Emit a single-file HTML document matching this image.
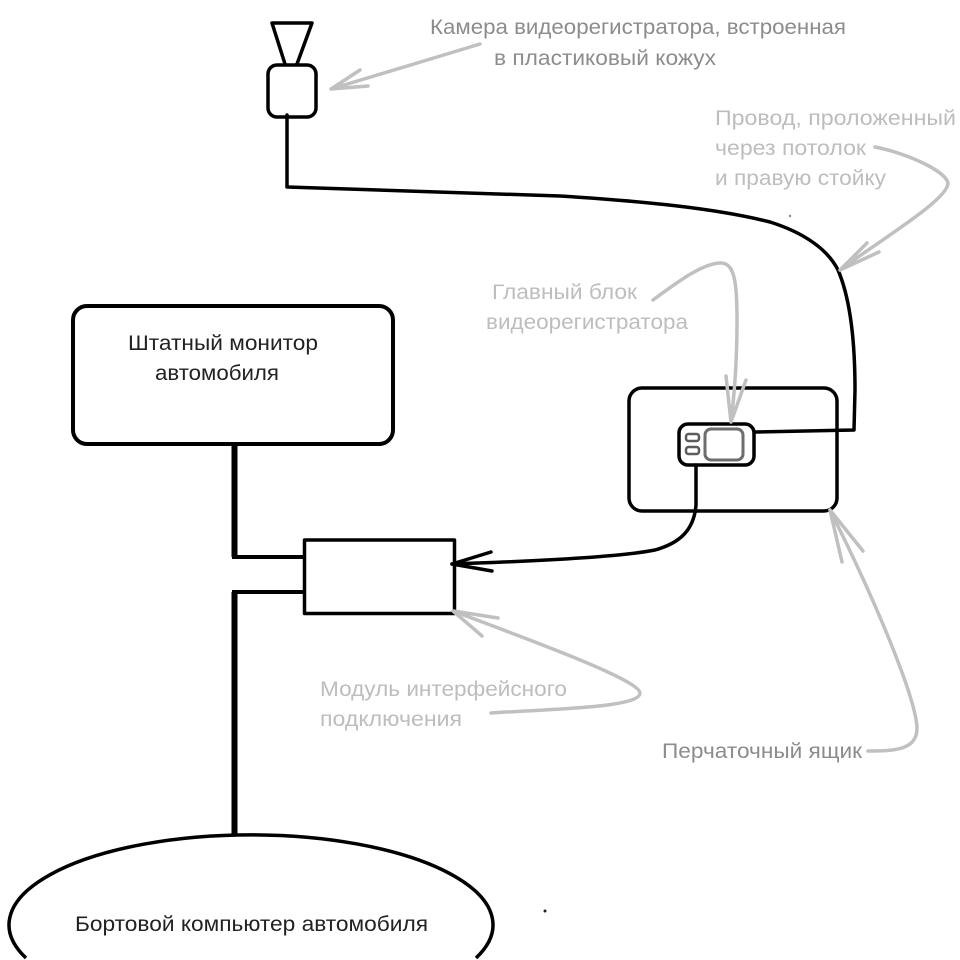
<!DOCTYPE html>
<html><head><meta charset="utf-8"><style>
html,body{margin:0;padding:0;background:#fff;width:960px;height:960px;overflow:hidden}
svg{display:block}
text{font-family:"Liberation Sans","DejaVu Sans",sans-serif;font-size:21.5px}
.g{fill:#bdbdbd}
.d{fill:#8c8c8c}
.b{fill:#222}
</style></head><body>
<svg width="960" height="960" viewBox="0 0 960 960" xmlns="http://www.w3.org/2000/svg">
<g fill="none" stroke="#000" stroke-linecap="round" stroke-linejoin="round">
<path d="M285 64L272 23H312L297 64" stroke-width="3.5"/>
<rect x="268" y="65" width="48" height="52" rx="9" stroke-width="3.5"/>
<path d="M287 115V187L560 196C640 201 715 208 770 222C805 233 828 250 838 270C850 298 855 340 855 390L854 430L755 432" stroke-width="3.5"/>
<rect x="73" y="306" width="320" height="138" rx="14" stroke-width="4"/>
<path d="M234.500 444V557" stroke-width="6" stroke-linecap="butt"/>
<path d="M234.500 592V834" stroke-width="6" stroke-linecap="butt"/>
<path d="M232 557H304M232 592H304" stroke-width="4" stroke-linecap="butt"/>
<rect x="304.500" y="540" width="150" height="73.500" stroke-width="3.500"/>
<rect x="629" y="388" width="208" height="123" rx="13" stroke-width="3.5"/>
<rect x="679" y="424" width="75" height="41" rx="9" stroke-width="3.5"/>
<rect x="705" y="429" width="38" height="31" rx="6" stroke="#6e6e6e" stroke-width="3"/>
<rect x="686" y="434" width="13" height="7" rx="2.5" stroke="#5c5c5c" stroke-width="2.5"/>
<rect x="686" y="447" width="13" height="7" rx="2.5" stroke="#5c5c5c" stroke-width="2.5"/>
<path d="M696 465V505C694 530 680 543 655 550C620 557 540 561 452 564" stroke-width="3.5"/>
<path d="M491 552L452 564L492 571" stroke-width="3.5"/>
<path d="M26 958A242 90 0 1 1 476 958" stroke-width="3.5" stroke-linecap="butt"/>
</g>
<g fill="none" stroke="#c0c0c0" stroke-width="3.5" stroke-linecap="round" stroke-linejoin="round">
<path d="M480 44L331 89L360 70M331 89L368 86"/>
<path d="M875 147C905 153 945 170 948 183C948 200 880 240 840 270M840 270L867 243M840 270L879 252"/>
<path d="M653 300C680 280 705 262 722 263C735 264 737 285 737 320C737 360 735 390 731 422M731 422L726 376M731 422L746 380"/>
<path d="M868 751C895 751 917 750 917 728C916 700 880 610 830 510M830 510L842 562M830 510L863 551"/>
<path d="M491 713C550 709 640 708 640 693C640 680 530 640 453 611M453 611L498 618M453 611L482 636"/>
</g>
<text x="430" y="34" class="d" textLength="416" lengthAdjust="spacingAndGlyphs">Камера видеорегистратора, встроенная</text>
<text x="494" y="65" class="d" textLength="222" lengthAdjust="spacingAndGlyphs">в пластиковый кожух</text>
<text x="715" y="125" class="g" textLength="241" lengthAdjust="spacingAndGlyphs">Провод, проложенный</text>
<text x="715" y="155" class="g" textLength="151" lengthAdjust="spacingAndGlyphs">через потолок</text>
<text x="715" y="185" class="g" textLength="171" lengthAdjust="spacingAndGlyphs">и правую стойку</text>
<text x="492" y="299" class="g" textLength="145" lengthAdjust="spacingAndGlyphs">Главный блок</text>
<text x="486" y="329" class="g" textLength="202" lengthAdjust="spacingAndGlyphs">видеорегистратора</text>
<text x="128" y="350" class="b" textLength="190" lengthAdjust="spacingAndGlyphs">Штатный монитор</text>
<text x="155" y="380" class="b" textLength="124" lengthAdjust="spacingAndGlyphs">автомобиля</text>
<text x="320" y="696" class="g" textLength="247" lengthAdjust="spacingAndGlyphs">Модуль интерфейсного</text>
<text x="320" y="726" class="g" textLength="142" lengthAdjust="spacingAndGlyphs">подключения</text>
<text x="662" y="758" class="d" textLength="200" lengthAdjust="spacingAndGlyphs">Перчаточный ящик</text>
<text x="75" y="931" class="b" textLength="353" lengthAdjust="spacingAndGlyphs">Бортовой компьютер автомобиля</text>
<circle cx="545" cy="911" r="1.5" fill="#222"/>
<circle cx="790" cy="216" r="1.2" fill="#888"/>
</svg>
</body></html>
